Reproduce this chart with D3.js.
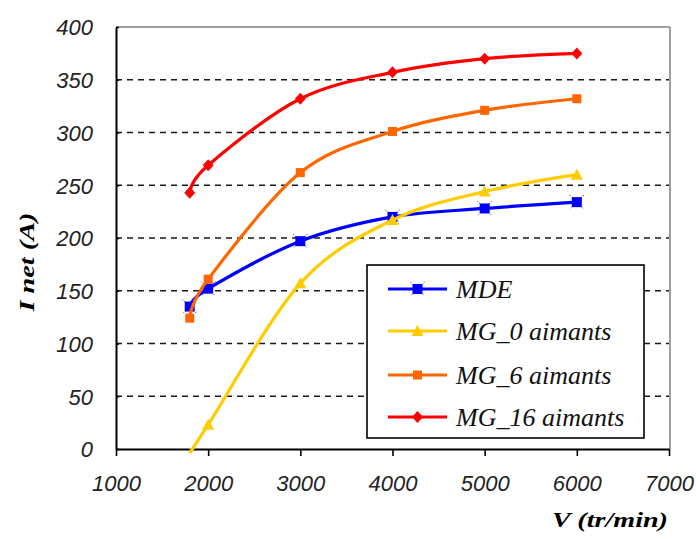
<!DOCTYPE html>
<html><head><meta charset="utf-8">
<script src="https://cdn.jsdelivr.net/npm/d3@7"></script>
<style>
html,body{margin:0;padding:0;background:#fff;}
svg{display:block;}
</style></head>
<body>
<svg id="c" width="696" height="539"></svg>
<script>
const speeds = [1800, 2000, 3000, 4000, 5000, 6000];
const seriesNames = ["MDE", "MG_0 aimants", "MG_6 aimants", "MG_16 aimants"];
const mde   = [135, 152, 197, 220, 228, 234];
const mg0   = [-4, 23, 157, 217, 244, 260];
const mg6   = [124, 161, 262, 301, 321, 332];
const mg16  = [243, 269, 332, 357, 370, 375];
const xTicks = [1000, 2000, 3000, 4000, 5000, 6000, 7000];
const yTicks = [0, 50, 100, 150, 200, 250, 300, 350, 400];
const colors = ["#0000ff", "#ffcc00", "#ff6600", "#ff0000"];
const markers = ["star", "triangle", "square", "diamond"];
const values = [mde, mg0, mg6, mg16];

const svg = d3.select("#c");
const x = d3.scaleLinear().domain([1000, 7000]).range([116, 669]);
const y = d3.scaleLinear().domain([0, 400]).range([449, 27]);

// plot border (top & right gray)
svg.append("line").attr("x1", x(1000)).attr("x2", x(7000)+1).attr("y1", y(400)).attr("y2", y(400))
  .attr("stroke", "#a0a0a0").attr("stroke-width", 2);
svg.append("line").attr("x1", x(7000)+1).attr("x2", x(7000)+1).attr("y1", y(400)).attr("y2", y(0))
  .attr("stroke", "#a0a0a0").attr("stroke-width", 2);

// gridlines
svg.append("g").selectAll("line").data(yTicks.filter(d => d > 0 && d < 400)).join("line")
  .attr("x1", x(1000)).attr("x2", x(7000)).attr("y1", d => y(d)).attr("y2", d => y(d))
  .attr("stroke", "#1a1a1a").attr("stroke-width", 1.6).attr("stroke-dasharray", "6,5");

// axes
const yAxis = d3.axisLeft(y).tickValues(yTicks).tickSize(9).tickSizeOuter(0).tickPadding(14).tickFormat(d3.format("d"));
const gy = svg.append("g").attr("transform", `translate(${x(1000)},0)`).call(yAxis);
const xAxis = d3.axisBottom(x).tickValues(xTicks).tickSize(7).tickSizeOuter(0).tickPadding(19).tickFormat(d3.format("d"));
const gx = svg.append("g").attr("transform", `translate(0,${y(0)})`).call(xAxis);
[gx, gy].forEach(g => {
  g.select(".domain").attr("stroke", "#000").attr("stroke-width", 2);
  g.selectAll(".tick line").attr("stroke", "#000").attr("stroke-width", 1.6);
  g.selectAll("text").attr("font-family", "Liberation Sans, Arial, sans-serif")
    .attr("font-style", "italic").attr("font-size", 22).attr("fill", "#222");
});
gy.selectAll(".tick line").attr("x2", 3);
gy.selectAll("text").attr("dy", "0.36em");
gx.selectAll(".tick line").attr("y1", 0);

// clip for markers
svg.append("clipPath").attr("id", "plotclip").append("rect")
  .attr("x", x(1000)-10).attr("y", y(400)-10).attr("width", x(7000)-x(1000)+20).attr("height", y(0)-y(400)+10);

const line = d3.line().x(d => x(d[0])).y(d => y(d[1])).curve(d3.curveCardinal.tension(0));

function drawMarker(g, type, color, cx, cy, scale) {
  const s = scale || 1;
  if (type === "square") {
    g.append("rect").attr("x", cx-4.5*s).attr("y", cy-4.5*s).attr("width", 9*s).attr("height", 9*s).attr("fill", color);
  } else if (type === "diamond") {
    g.append("path").attr("d", `M${cx},${cy-6*s}L${cx+5.5*s},${cy}L${cx},${cy+6*s}L${cx-5.5*s},${cy}Z`).attr("fill", color);
  } else if (type === "triangle") {
    g.append("path").attr("d", `M${cx},${cy-6*s}L${cx+6*s},${cy+5*s}L${cx-6*s},${cy+5*s}Z`).attr("fill", color);
  } else if (type === "star") {
    g.append("rect").attr("x", cx-5*s).attr("y", cy-5*s).attr("width", 10*s).attr("height", 10*s).attr("fill", color);
    g.append("path").attr("d", `M${cx-7*s},${cy-7*s}L${cx+7*s},${cy+7*s}M${cx+7*s},${cy-7*s}L${cx-7*s},${cy+7*s}`)
      .attr("stroke", color).attr("stroke-width", 1).attr("stroke-dasharray", "1,1.5");
  }
}

values.forEach((vals, i) => {
  const pts = speeds.map((s, j) => [s, vals[j]]);
  svg.append("path").attr("d", line(pts)).attr("fill", "none")
    .attr("stroke", colors[i]).attr("stroke-width", 3.2).attr("stroke-linejoin", "round");
  const mg = svg.append("g").attr("clip-path", "url(#plotclip)");
  pts.forEach(p => drawMarker(mg, markers[i], colors[i], x(p[0]), y(p[1])));
});

// legend
const lg = svg.append("g");
lg.append("rect").attr("x", 367).attr("y", 265).attr("width", 277).attr("height", 173)
  .attr("fill", "#fff").attr("stroke", "#000").attr("stroke-width", 1.6);
const ly = [289, 331, 375, 417];
seriesNames.forEach((n, i) => {
  lg.append("line").attr("x1", 388).attr("x2", 447).attr("y1", ly[i]).attr("y2", ly[i])
    .attr("stroke", colors[i]).attr("stroke-width", 3.2);
  drawMarker(lg, markers[i], colors[i], 417.5, ly[i]);
  lg.append("text").attr("x", 456).attr("y", ly[i]).attr("dy", "0.33em")
    .attr("font-family", "Liberation Serif, Times New Roman, serif").attr("font-style", "italic")
    .attr("font-size", 26).attr("fill", "#111").text(n);
});

// axis titles
svg.append("text").attr("x", 668).attr("y", 527).attr("text-anchor", "end")
  .attr("font-family", "Liberation Serif, Times New Roman, serif").attr("font-style", "italic").attr("font-weight", "bold")
  .attr("font-size", 21).attr("textLength", 116).attr("lengthAdjust", "spacingAndGlyphs").text("V (tr/min)");
svg.append("text").attr("transform", "translate(34,262) rotate(-90)").attr("text-anchor", "middle")
  .attr("font-family", "Liberation Serif, Times New Roman, serif").attr("font-style", "italic").attr("font-weight", "bold")
  .attr("font-size", 21).attr("textLength", 99).attr("lengthAdjust", "spacingAndGlyphs").text("I net (A)");
</script>
</body></html>
